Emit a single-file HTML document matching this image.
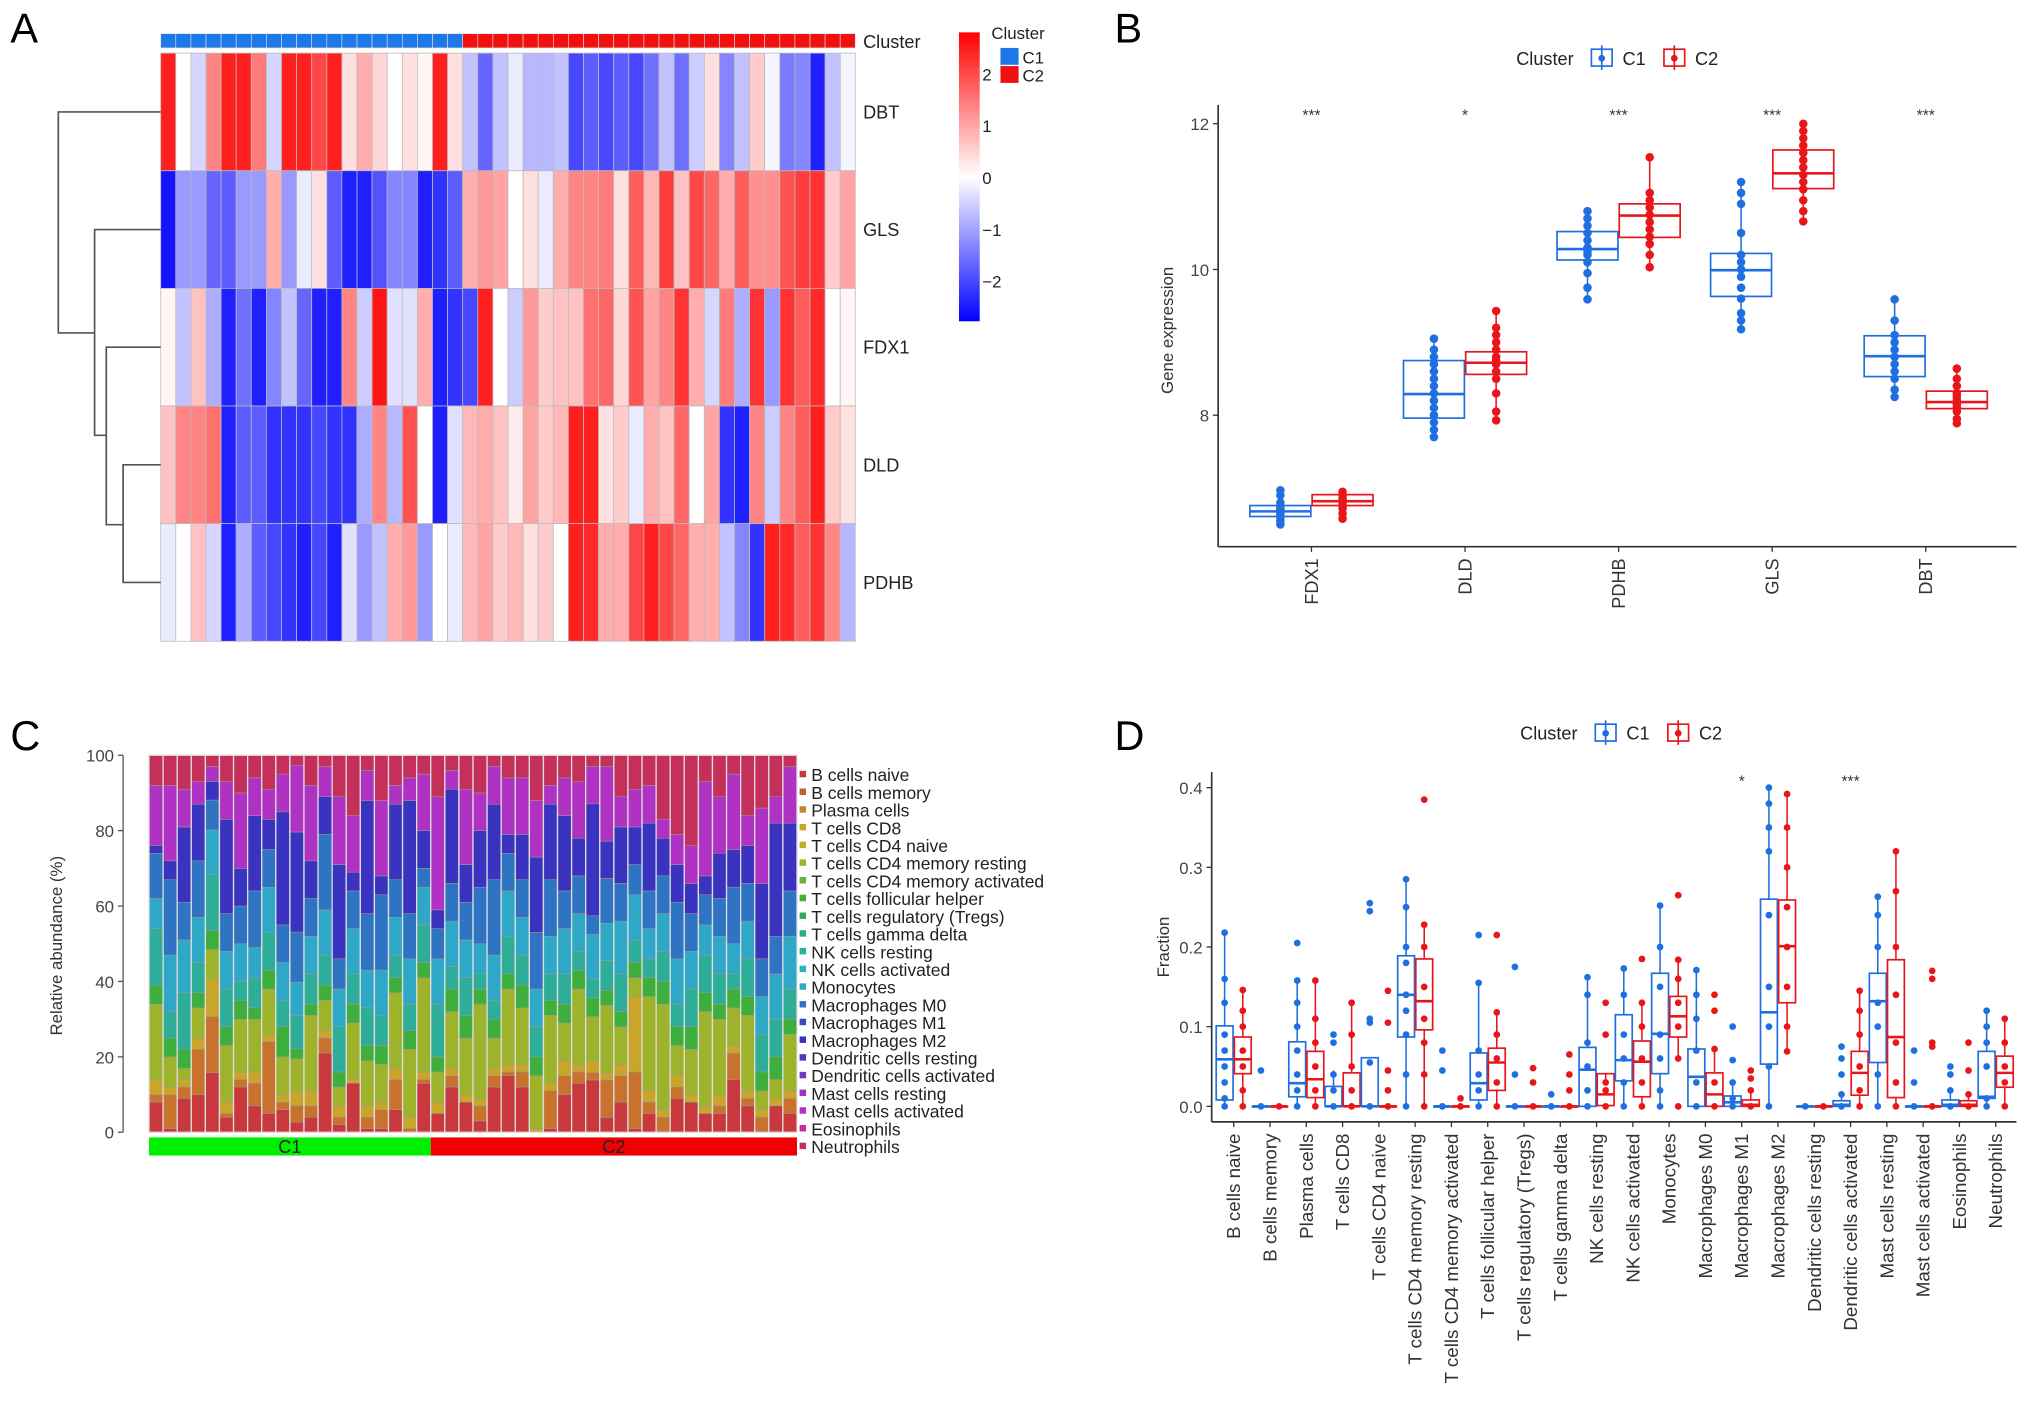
<!DOCTYPE html>
<html><head><meta charset="utf-8"><style>
html,body{margin:0;padding:0;background:#fff;}
svg{display:block;font-family:"Liberation Sans",sans-serif;}
</style></head><body>
<svg id="fig" xmlns="http://www.w3.org/2000/svg" width="2032" height="1403" viewBox="0 0 1568 1083" preserveAspectRatio="none">
<rect x="0" y="0" width="1568" height="1083" fill="#fff"/>
<text x="8" y="33" font-size="32">A</text>
<text x="860" y="33" font-size="32">B</text>
<text x="8" y="579" font-size="32">C</text>
<text x="860" y="579" font-size="32">D</text>
</svg>
<script>
// ---------- Panel A data ----------
const heatGenes = ['DBT','GLS','FDX1','DLD','PDHB'];
const heatC1Count = 20;
const heatDBT = [2.2,0,-0.4,1.2,2.2,2.2,1.3,-0.4,2.2,2.2,1.8,2.2,0.3,0.8,0.4,0,0.3,0.1,2.2,0.3,
 -0.6,-1.5,-0.6,-0.2,-0.7,-0.7,-0.6,-1.8,-1.6,-1.8,-1.6,-1.8,-1.4,-0.6,-1.4,-0.5,0.3,-1.2,-0.6,0.5,-0.1,-1.3,-1.2,-2.2,-0.6,-0.1];
const heatGLS = [-2.3,-1,-1,-1.5,-1.6,-1,-1,0.8,-1,-0.2,0.3,-1.6,-2.2,-2.2,-1.7,-1.2,-1.2,-2.2,-2,-1.6,
 0.8,1,0.9,0,0.3,-0.2,0.8,1.2,1.2,1.3,0.3,1.6,0.7,1.9,0.6,1.8,1.5,0.8,1.6,1.1,1.1,1.7,1.9,2,0.5,0.9];
const heatFDX1 = [0.1,-0.6,0.6,-0.8,-2.2,-1.4,-2.2,-1.2,-0.6,-1.5,-2.2,-2.2,1.2,-0.5,2.3,-0.3,-0.3,0.8,-2.2,-2,
 -1.8,2.2,0,-0.5,1,0.5,0.6,0.6,1.4,1.5,0.4,1.7,0.9,1.2,2,0.8,-0.4,1.3,-0.8,2,-1,2,1.6,2.1,0,0.1];
const heatDLD = [0.6,1.2,1.2,1.4,-2.2,-1.6,-1.6,-2,-2,-2,-1.8,-2,-2,-0.8,1.2,-0.7,1.7,0,-2.2,-0.3,
 0.7,0.8,0.6,0.2,0.9,0.5,0.7,2.2,2.2,0.3,0.5,-0.2,0.8,0.6,1.5,0,0.9,-2,-2.2,1.2,-0.5,1.2,1.6,2.2,0.5,0.3];
const heatPDHB = [-0.2,0,0.6,-0.4,-2.2,-0.8,-1.6,-1.8,-2,-2.2,-1.8,-2.2,-0.3,-1,-0.6,0.8,1,-1,0,-0.2,
 0.7,0.9,0.5,0.7,0.3,0.5,0,2.2,2.1,0.8,0.8,1.8,2.2,1.8,1.5,0.8,0.8,-0.6,-1.2,-2,2.2,2.1,1.6,2,1.2,-0.7];
const heatScaleTicks = [2,1,0,-1,-2];

// ---------- Panel B data ----------
const bGenes = ['FDX1','DLD','PDHB','GLS','DBT'];
const bSig = ['***','*','***','***','***'];
const bTicks = [8,10,12];
const bC1Stats = [[6.47,6.61,6.68,6.76,7.01],[7.68,7.96,8.29,8.75,9.05],[9.59,10.13,10.28,10.52,10.8],[9.18,9.63,9.99,10.22,11.2],[8.25,8.53,8.81,9.09,9.59]];
const bC2Stats = [[6.56,6.76,6.82,6.91,6.97],[7.93,8.56,8.72,8.87,9.43],[10.03,10.44,10.74,10.9,11.54],[10.66,11.11,11.32,11.64,12.0],[7.89,8.09,8.18,8.33,8.64]];
const bC1Pts = [[6.5,6.55,6.6,6.62,6.65,6.68,6.7,6.72,6.75,6.8,6.9,6.97],[7.7,7.8,7.9,8.0,8.1,8.2,8.3,8.4,8.5,8.6,8.7,8.8,8.9,9.05],[9.59,9.75,9.95,10.1,10.2,10.25,10.3,10.4,10.5,10.6,10.7,10.8],[9.18,9.3,9.4,9.6,9.75,9.9,10.0,10.1,10.2,10.5,10.9,11.05,11.2],[8.25,8.35,8.5,8.6,8.7,8.8,8.9,9.0,9.1,9.3,9.59]];
const bC2Pts = [[6.58,6.65,6.72,6.76,6.8,6.83,6.86,6.9,6.95],[7.93,8.05,8.3,8.5,8.6,8.7,8.75,8.8,8.9,9.0,9.1,9.2,9.43],[10.03,10.2,10.35,10.45,10.55,10.65,10.75,10.85,10.95,11.05,11.54],[10.66,10.8,10.95,11.1,11.2,11.3,11.4,11.5,11.6,11.7,11.8,11.9,12.0],[7.89,7.95,8.05,8.1,8.15,8.2,8.25,8.3,8.4,8.5,8.64]];

// ---------- Panel C data ----------
const cellTypes = ['B cells naive','B cells memory','Plasma cells','T cells CD8','T cells CD4 naive','T cells CD4 memory resting','T cells CD4 memory activated','T cells follicular helper','T cells regulatory (Tregs)','T cells gamma delta','NK cells resting','NK cells activated','Monocytes','Macrophages M0','Macrophages M1','Macrophages M2','Dendritic cells resting','Dendritic cells activated','Mast cells resting','Mast cells activated','Eosinophils','Neutrophils'];
const cTicks = [0,20,40,60,80,100];
const cBNaive = [8,1,9,10,16,4,12,7,5,6,3,4,21,2,13,1,1,6,0,13,5,12,8,3,12,15,12,0,1,10,13,14,4,8,1,5,0,9,8,5,5,14,7,0,7,5];
const cPlasma = [2,9,3,12,15,1,2,6,19,2,5,3,4,2,0,3,5,8,1,1,0,3,0,4,3,1,4,0,10,5,3,2,10,7,15,3,4,3,0,0,2,7,2,4,0,4];
const cCD8 = [4,2,2,3,10,3,2,3,2,2,4,4,2,3,1,3,2,3,3,2,3,2,2,2,2,2,2,1,2,4,2,3,2,3,20,3,2,3,2,2,3,2,2,2,2,2];
const cCD4Rest = [20,8,3,8,8,15,14,14,12,10,10,20,8,5,15,12,10,20,18,25,8,15,15,25,8,20,15,14,18,10,20,12,18,10,5,25,28,8,12,25,20,10,20,5,5,15];
const cTFH = [5,5,5,4,5,5,5,3,5,8,3,3,4,4,5,4,5,4,5,4,4,6,6,4,5,4,6,5,4,5,5,5,4,4,4,5,6,5,6,5,4,5,5,5,6,4];
const cNK = [15,7,15,8,15,10,5,8,10,7,10,8,8,12,8,10,8,6,7,10,14,6,10,4,5,10,8,8,7,8,5,5,8,10,6,5,8,6,10,10,8,4,10,10,10,8];
const cMono = [8,15,14,12,12,10,10,8,12,10,10,10,12,10,12,10,12,10,12,10,12,12,10,8,12,12,10,10,10,12,10,12,10,14,12,8,10,12,10,8,10,8,10,10,12,14];
const cM0 = [12,20,10,15,8,10,10,15,10,10,15,10,20,8,10,15,20,10,12,5,8,10,10,15,20,10,10,15,15,10,10,5,12,10,8,10,10,15,10,8,10,15,10,10,10,12];
const cM2 = [2,5,20,15,5,25,10,20,8,30,30,10,10,25,5,30,5,20,30,10,5,25,10,15,20,5,12,20,20,20,10,30,10,15,10,18,10,10,8,5,12,10,10,20,30,18];
const cMast = [16,20,10,6,4,10,20,10,8,10,20,20,8,18,15,8,20,5,6,15,30,5,20,10,10,15,15,15,5,10,15,10,20,8,10,10,5,8,10,25,15,20,8,20,7,15];
const cC1Count = 20;

// ---------- Panel D data ----------
const dTicks = [0,0.1,0.2,0.3,0.4];
const dSig = {14:'*',17:'***'};
const dC1Stats = [[0,0.008,0.059,0.101,0.218],[0,0,0,0,0],[0,0.012,0.029,0.081,0.158],[0,0,0,0.025,0.045],[0,0,0,0.061,0.06],[0,0.087,0.14,0.189,0.285],[0,0,0,0,0],[0,0.008,0.029,0.067,0.156],[0,0,0,0,0],[0,0,0,0,0],[0,0,0.046,0.074,0.162],[0,0.032,0.058,0.115,0.173],[0,0.041,0.091,0.167,0.252],[0,0,0.037,0.072,0.171],[0,0,0.005,0.013,0.03],[0,0.053,0.118,0.26,0.4],[0,0,0,0,0],[0,0,0.002,0.007,0.015],[0,0.055,0.132,0.167,0.263],[0,0,0,0,0],[0,0,0.002,0.008,0.02],[0,0.01,0.012,0.069,0.12]];
const dC2Stats = [[0,0.041,0.059,0.087,0.146],[0,0,0,0,0],[0,0.011,0.034,0.069,0.158],[0,0,0,0.042,0.13],[0,0,0,0,0],[0,0.096,0.132,0.185,0.228],[0,0,0,0,0],[0,0.02,0.055,0.073,0.118],[0,0,0,0,0],[0,0,0,0,0],[0,0.001,0.015,0.041,0.03],[0,0.012,0.056,0.082,0.13],[0.06,0.087,0.113,0.138,0.184],[0,0,0.015,0.042,0.072],[0,0,0.002,0.008,0.02],[0.069,0.13,0.201,0.259,0.392],[0,0,0,0,0],[0,0.014,0.042,0.069,0.145],[0,0.011,0.087,0.184,0.32],[0,0,0,0,0],[0,0,0.002,0.007,0.015],[0,0.024,0.042,0.063,0.11]];
const dC1Pts = [[0,0.01,0.03,0.05,0.07,0.09,0.13,0.16,0.218],[0,0.045],[0,0.02,0.04,0.07,0.1,0.13,0.158,0.205],[0,0.02,0.04,0.08,0.09],[0,0.055,0.105,0.11,0.245,0.255],[0,0.04,0.09,0.12,0.14,0.18,0.2,0.25,0.285],[0,0.045,0.07],[0,0.02,0.04,0.07,0.155,0.215],[0,0.04,0.175],[0,0.015],[0,0.02,0.05,0.08,0.14,0.162],[0,0.03,0.06,0.09,0.14,0.173],[0,0.02,0.06,0.09,0.15,0.2,0.252],[0,0.03,0.07,0.11,0.14,0.171],[0,0.01,0.03,0.058,0.1],[0,0.05,0.1,0.15,0.24,0.32,0.35,0.38,0.4],[0],[0,0.015,0.04,0.06,0.075],[0,0.04,0.1,0.13,0.2,0.24,0.263],[0,0.03,0.07],[0,0.02,0.04,0.05],[0,0.01,0.05,0.08,0.1,0.12]];
const dC2Pts = [[0,0.02,0.05,0.07,0.1,0.12,0.146],[0],[0,0.02,0.05,0.08,0.11,0.158],[0,0.02,0.05,0.09,0.13],[0,0.02,0.045,0.105,0.145],[0,0.04,0.08,0.11,0.15,0.2,0.228,0.385],[0,0.01],[0,0.03,0.06,0.09,0.118,0.215],[0,0.03,0.048],[0,0.02,0.04,0.065],[0,0.02,0.03,0.09,0.13],[0,0.03,0.06,0.1,0.13,0.185],[0,0.06,0.1,0.13,0.16,0.184,0.265],[0,0.03,0.072,0.12,0.14],[0,0.02,0.035,0.045],[0.069,0.1,0.15,0.2,0.25,0.3,0.35,0.392],[0],[0,0.02,0.05,0.09,0.12,0.145],[0,0.03,0.08,0.14,0.2,0.27,0.32],[0,0.075,0.08,0.16,0.17],[0,0.015,0.045,0.08],[0,0.03,0.05,0.08,0.11]];

// ---------- helpers ----------
const svg = document.getElementById('fig');
const NS = 'http://www.w3.org/2000/svg';
function mk(tag, attrs, name, parent) {
  const el = document.createElementNS(NS, tag);
  for (const k in attrs) el.setAttribute(k, attrs[k]);
  
  
  (parent || svg).appendChild(el);
  return el;
}
function txt(s, attrs, name) { const t = mk('text', attrs, name); t.textContent = s; return t; }
const BLUE = '#1F6FE0', RED = '#E8161B';

// ---------- Panel A ----------
(function(){
  const rows = [heatDBT, heatGLS, heatFDX1, heatDLD, heatPDHB];
  const x0 = 124, x1 = 660, y0 = 41, rowH = 90.8, n = heatDBT.length, cw = (x1 - x0) / n;
  const hx = i => x0 + i * cw;
  const hy = r => y0 + r * rowH;
  function col(v) {
    const t = Math.max(-1, Math.min(1, v / 2.5));
    if (t >= 0) { const g = Math.round(255 * (1 - t)); return `rgb(255,${g},${g})`; }
    const g = Math.round(255 * (1 + t)); return `rgb(${g},${g},255)`;
  }
  for (let i = 0; i < n; i++) {
    mk('rect', {x: hx(i), y: 26, width: cw, height: 11, fill: i < heatC1Count ? '#1E78E8' : '#F01010', stroke: '#ddd', 'stroke-width': 0.5}, 'cluster-annotation-cell');
  }
  rows.forEach((row, r) => {
    row.forEach((v, i) => {
      mk('rect', {x: hx(i), y: hy(r), width: cw, height: rowH, fill: col(v), stroke: '#bbb', 'stroke-width': 0.6}, 'heatmap-cell');
    });
    txt(heatGenes[r], {x: 666, y: hy(r) + rowH / 2 + 5, 'font-size': 14, fill: '#222'}, 'row-label-' + heatGenes[r].toLowerCase());
  });
  txt('Cluster', {x: 666, y: 37, 'font-size': 14, fill: '#222'}, 'cluster-annotation-label');
  const cy = r => hy(r) + rowH / 2;
  const dp = `M124 ${cy(0)} H45 V257 H73 M124 ${cy(1)} H73 V336 H82 M124 ${cy(2)} H82 V405 H95 M124 ${cy(3)} H95 V${cy(4)} H124 M45 257 V${cy(0)}`;
  mk('path', {d: dp, fill: 'none', stroke: '#555', 'stroke-width': 1.3}, 'row-dendrogram');
  const grad = mk('linearGradient', {id: 'hg', x1: 0, y1: 0, x2: 0, y2: 1}, 'colorbar-gradient');
  [['0%','#FF0000'],['50%','#FFFFFF'],['100%','#0000FF']].forEach(s => mk('stop', {offset: s[0], 'stop-color': s[1]}, 'gradient-stop', grad));
  mk('rect', {x: 740, y: 25, width: 16, height: 223, fill: 'url(#hg)'}, 'colorbar');
  heatScaleTicks.forEach(v => {
    const y = 137 - v * 40;
    txt(String(v).replace('-', '\u2212'), {x: 758, y: y + 5, 'font-size': 13, fill: '#222'}, 'colorbar-tick-label');
  });
  txt('Cluster', {x: 765, y: 30, 'font-size': 13, fill: '#222'}, 'cluster-legend-title');
  mk('rect', {x: 772, y: 37, width: 14, height: 13, fill: '#1E78E8'}, 'legend-swatch-c1');
  mk('rect', {x: 772, y: 51, width: 14, height: 13, fill: '#F01010'}, 'legend-swatch-c2');
  txt('C1', {x: 789, y: 49, 'font-size': 13, fill: '#222'}, 'legend-label-c1');
  txt('C2', {x: 789, y: 63, 'font-size': 13, fill: '#222'}, 'legend-label-c2');
})();

function clusterLegend(x, y) {
  txt('Cluster', {x: x, y: y + 5, 'font-size': 14, fill: '#222'}, 'legend-title');
  [[BLUE, 'C1', 58], [RED, 'C2', 114]].forEach(([c, l, dx]) => {
    mk('rect', {x: x + dx, y: y - 7, width: 16, height: 13, fill: 'none', stroke: c, 'stroke-width': 1.3}, 'legend-key-' + l.toLowerCase());
    mk('line', {x1: x + dx + 8, x2: x + dx + 8, y1: y - 10, y2: y + 9, stroke: c, 'stroke-width': 1.3}, 'legend-key-whisker');
    mk('circle', {cx: x + dx + 8, cy: y, r: 2.6, fill: c}, 'legend-key-dot');
    txt(l, {x: x + dx + 24, y: y + 5, 'font-size': 14, fill: '#222'}, 'legend-label-' + l.toLowerCase());
  });
}
function boxGroup(cx, w, st, pts, c, ys, r) {
  const [lo, q1, md, q3, hi] = st;
  mk('line', {x1: cx, x2: cx, y1: ys(hi), y2: ys(q3), stroke: c, 'stroke-width': 1.2}, 'upper-whisker');
  mk('line', {x1: cx, x2: cx, y1: ys(q1), y2: ys(lo), stroke: c, 'stroke-width': 1.2}, 'lower-whisker');
  mk('rect', {x: cx - w / 2, y: ys(q3), width: w, height: Math.max(0.5, ys(q1) - ys(q3)), fill: 'none', stroke: c, 'stroke-width': 1.3}, 'box');
  mk('line', {x1: cx - w / 2, x2: cx + w / 2, y1: ys(md), y2: ys(md), stroke: c, 'stroke-width': 2}, 'median-line');
  pts.forEach(v => mk('circle', {cx: cx, cy: ys(v), r: r, fill: c}, 'data-point'));
}

// ---------- Panel B ----------
(function(){
  clusterLegend(1170, 45);
  const ax = 940, top = 81, bot = 422, right = 1556;
  const ys = v => 208 - (v - 10) * 56.25;
  const xs = i => 1012 + i * 118.5;
  mk('line', {x1: ax, x2: ax, y1: top, y2: bot, stroke: '#333', 'stroke-width': 1.3}, 'y-axis-line');
  mk('line', {x1: ax, x2: right, y1: bot, y2: bot, stroke: '#333', 'stroke-width': 1.3}, 'x-axis-line');
  bTicks.forEach(v => {
    mk('line', {x1: ax - 4, x2: ax, y1: ys(v), y2: ys(v), stroke: '#333'}, 'y-tick');
    txt(String(v), {x: ax - 7, y: ys(v) + 5, 'font-size': 13, 'text-anchor': 'end', fill: '#444'}, 'y-tick-label');
  });
  txt('Gene expression', {x: 0, y: 0, 'font-size': 13, 'text-anchor': 'middle', fill: '#333', transform: 'translate(905,255) rotate(-90)'}, 'y-axis-title');
  bGenes.forEach((g, i) => {
    mk('line', {x1: xs(i), x2: xs(i), y1: bot, y2: bot + 4, stroke: '#333'}, 'x-tick');
    txt(g, {x: 0, y: 0, 'font-size': 14, 'text-anchor': 'end', fill: '#333', transform: `translate(${xs(i) + 5},${bot + 9}) rotate(-90)`}, 'x-tick-label');
    txt(bSig[i], {x: xs(i), y: 93, 'font-size': 12, 'text-anchor': 'middle', fill: '#333'}, 'significance-label');
    boxGroup(xs(i) - 24, 47, bC1Stats[i], bC1Pts[i], BLUE, ys, 3.3);
    boxGroup(xs(i) + 24, 47, bC2Stats[i], bC2Pts[i], RED, ys, 3.3);
  });
})();

// ---------- Panel C ----------
(function(){
  const comps = [[cBNaive,'#C8383C'],[cPlasma,'#C8722E'],[cCD8,'#C9A52A'],[cCD4Rest,'#9DB32C'],[cTFH,'#3EAE3C'],[cNK,'#2EAE98'],[cMono,'#2FA8C8'],[cM0,'#2F74C2'],[cM2,'#3A33C0'],[cMast,'#B032C2']];
  const topColor = '#C4305A';
  const x0 = 115, x1 = 615, y0 = 583, y1 = 874, n = cBNaive.length, bw = (x1 - x0) / n;
  const ys = v => y1 - v / 100 * (y1 - y0);
  const xs = i => x0 + i * bw;
  for (let i = 0; i < n; i++) {
    let vals = comps.map(c => c[0][i]);
    let s = vals.reduce((a, b) => a + b, 0);
    const topv = Math.max(3, 100 - s);
    const tot = s + topv;
    let acc = 0;
    comps.forEach((c, k) => {
      const v = vals[k] / tot * 100;
      mk('rect', {x: xs(i), y: ys(acc + v), width: bw, height: ys(acc) - ys(acc + v), fill: c[1], stroke: '#999', 'stroke-width': 0.4}, 'stacked-bar-segment');
      acc += v;
    });
    mk('rect', {x: xs(i), y: ys(100), width: bw, height: ys(acc) - ys(100), fill: topColor, stroke: '#999', 'stroke-width': 0.4}, 'stacked-bar-segment');
    mk('rect', {x: xs(i), y: y0, width: bw, height: y1 - y0, fill: 'none', stroke: '#ddd', 'stroke-width': 1}, 'bar-outline');
  }
  mk('line', {x1: 95, x2: 95, y1: y0, y2: y1, stroke: '#555'}, 'y-axis-line');
  cTicks.forEach(v => {
    mk('line', {x1: 91, x2: 95, y1: ys(v), y2: ys(v), stroke: '#555'}, 'y-tick');
    txt(String(v), {x: 88, y: ys(v) + 5, 'font-size': 13, 'text-anchor': 'end', fill: '#444'}, 'y-tick-label');
  });
  txt('Relative abundance (%)', {x: 0, y: 0, 'font-size': 13, 'text-anchor': 'middle', fill: '#333', transform: 'translate(48,730) rotate(-90)'}, 'y-axis-title');
  const c1w = cC1Count * bw;
  mk('rect', {x: x0, y: 878, width: c1w, height: 14, fill: '#00EE00'}, 'group-bar-c1');
  mk('rect', {x: x0 + c1w, y: 878, width: x1 - x0 - c1w, height: 14, fill: '#F00000'}, 'group-bar-c2');
  txt('C1', {x: x0 + c1w / 2, y: 890, 'font-size': 14, 'text-anchor': 'middle', fill: '#222'}, 'group-label-c1');
  txt('C2', {x: x0 + c1w + (x1 - x0 - c1w) / 2, y: 890, 'font-size': 14, 'text-anchor': 'middle', fill: '#222'}, 'group-label-c2');
  const legCols = ['#C8383C','#C0602E','#C8822E','#C9A52A','#B3B32C','#9DB32C','#6AB232','#3EAE3C','#2FAA5A','#2EAE80','#2EAE98','#2FB4BE','#2FA8C8','#2F74C2','#3050C0','#3A33C0','#5533C2','#7A33C4','#9A32C4','#B032C2','#C030A0','#C4305A'];
  cellTypes.forEach((t, k) => {
    const y = 598 + k * 13.67;
    mk('rect', {x: 617, y: y - 3, width: 5, height: 5, fill: legCols[k]}, 'legend-swatch');
    txt(t, {x: 626, y: y + 5, 'font-size': 13.5, fill: '#222'}, 'legend-entry');
  });
})();

// ---------- Panel D ----------
(function(){
  clusterLegend(1173, 566);
  const ax = 935, top = 596, bot = 866, right = 1556;
  const ys = v => 854 - v * 615;
  const xs = i => 952 + i * 28.0;
  mk('line', {x1: ax, x2: ax, y1: top, y2: bot, stroke: '#333', 'stroke-width': 1.3}, 'y-axis-line');
  mk('line', {x1: ax, x2: right, y1: bot, y2: bot, stroke: '#333', 'stroke-width': 1.3}, 'x-axis-line');
  dTicks.forEach(v => {
    mk('line', {x1: ax - 4, x2: ax, y1: ys(v), y2: ys(v), stroke: '#333'}, 'y-tick');
    txt(v.toFixed(1), {x: ax - 7, y: ys(v) + 5, 'font-size': 13, 'text-anchor': 'end', fill: '#444'}, 'y-tick-label');
  });
  txt('Fraction', {x: 0, y: 0, 'font-size': 13, 'text-anchor': 'middle', fill: '#333', transform: 'translate(902,731) rotate(-90)'}, 'y-axis-title');
  cellTypes.forEach((t, i) => {
    mk('line', {x1: xs(i), x2: xs(i), y1: bot, y2: bot + 4, stroke: '#333'}, 'x-tick');
    txt(t, {x: 0, y: 0, 'font-size': 14.5, 'text-anchor': 'end', fill: '#333', transform: `translate(${xs(i) + 5},${bot + 9}) rotate(-90)`}, 'x-tick-label');
    boxGroup(xs(i) - 7, 13, dC1Stats[i], dC1Pts[i], BLUE, ys, 2.6);
    boxGroup(xs(i) + 7, 13, dC2Stats[i], dC2Pts[i], RED, ys, 2.6);
    if (dSig[i]) txt(dSig[i], {x: xs(i), y: 607, 'font-size': 12, 'text-anchor': 'middle', fill: '#333'}, 'significance-label');
  });
})();
</script>
</body></html>
